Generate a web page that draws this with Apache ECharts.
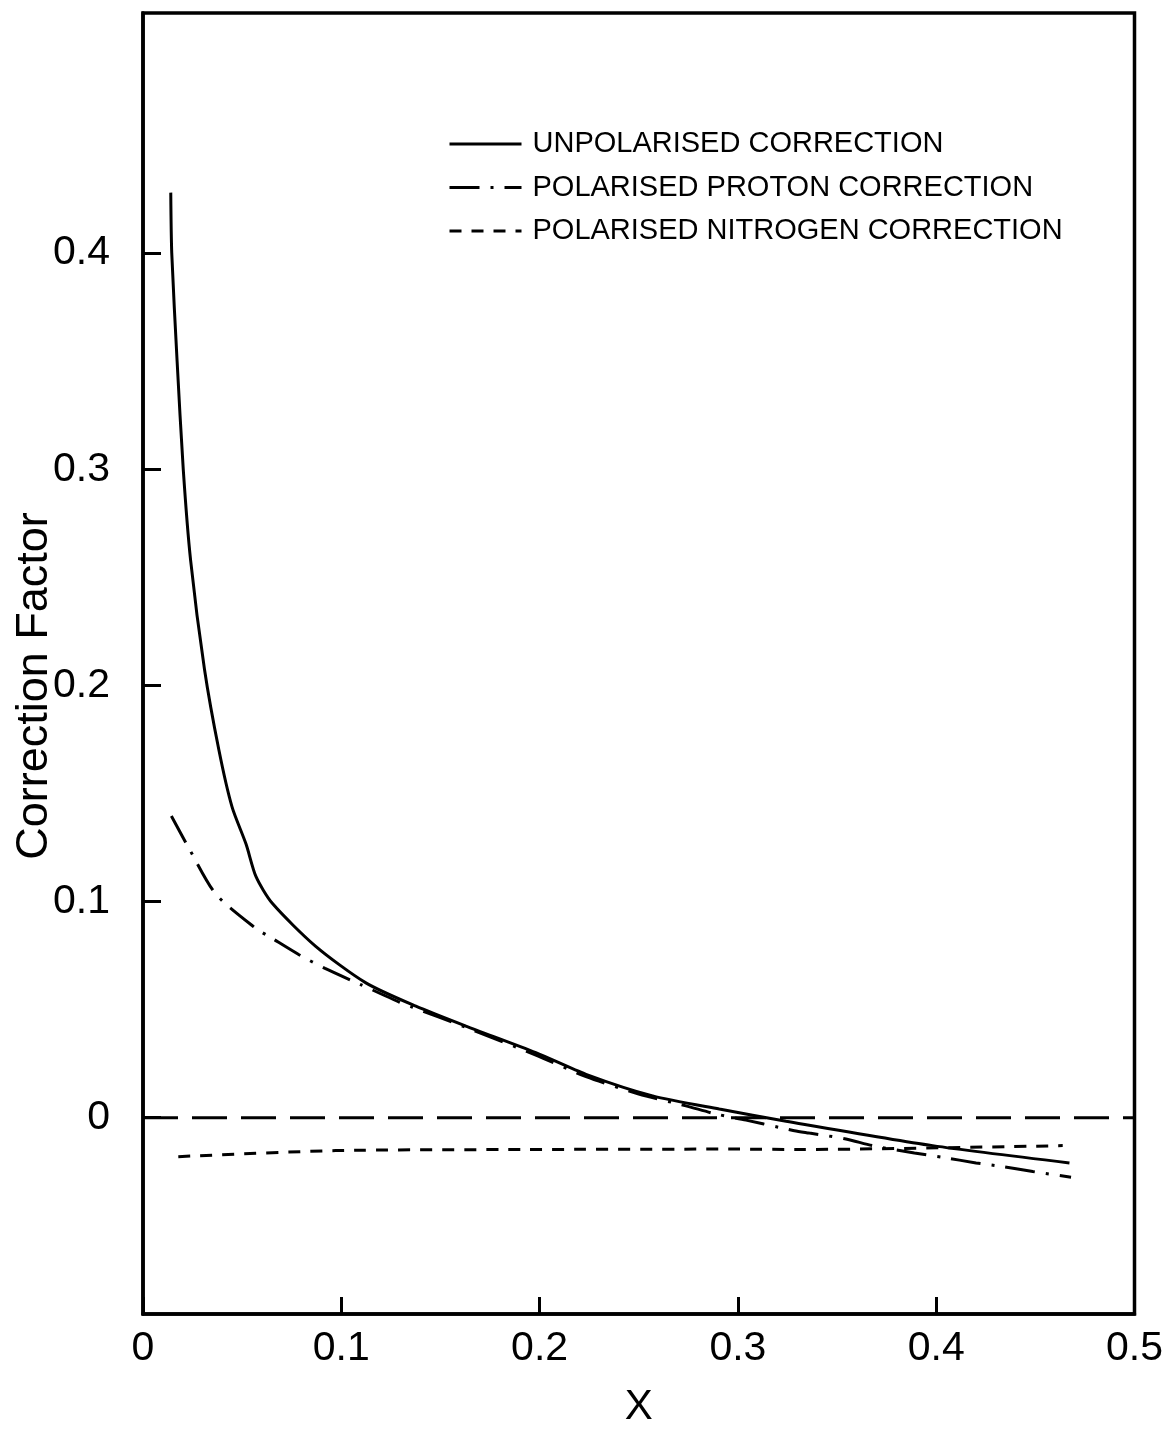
<!DOCTYPE html>
<html>
<head>
<meta charset="utf-8">
<script src="https://cdn.jsdelivr.net/npm/echarts@6/dist/echarts.min.js"></script>
<style>
html,body{margin:0;padding:0;background:#fff;}
#chart{width:1166px;height:1433px;}
</style>
</head>
<body>
<div id="chart"></div>
<script>
// ---- data ----
const seriesNames = ["UNPOLARISED CORRECTION", "POLARISED PROTON CORRECTION", "POLARISED NITROGEN CORRECTION"];
const unpolX = [0.0140, 0.0145, 0.0172, 0.0203, 0.0240, 0.0310, 0.0383, 0.0449, 0.0520, 0.0570, 0.0652, 0.0871, 0.1124, 0.1376, 0.1628, 0.1981, 0.2234, 0.2570, 0.2906, 0.3243, 0.3982, 0.4672];
const unpolY = [0.428, 0.400, 0.350, 0.300, 0.258, 0.2075, 0.170, 0.1438, 0.1265, 0.1115, 0.0992, 0.0793, 0.0624, 0.0516, 0.0424, 0.0301, 0.0201, 0.0101, 0.0040, -0.0016, -0.0129, -0.0209];
const protonX = [0.0143, 0.0232, 0.0367, 0.0569, 0.0644, 0.0787, 0.0918, 0.1098, 0.1292, 0.1357, 0.1628, 0.1981, 0.2234, 0.2500, 0.2738, 0.2890, 0.3041, 0.3209, 0.3285, 0.3360, 0.3545, 0.3678, 0.3890, 0.4033, 0.4201, 0.4319, 0.4487, 0.4680];
const protonY = [0.1396, 0.1246, 0.1035, 0.0876, 0.0834, 0.0754, 0.0691, 0.0616, 0.0535, 0.0512, 0.0418, 0.0290, 0.0190, 0.0110, 0.0055, 0.0017, -0.0011, -0.0045, -0.0060, -0.0071, -0.0098, -0.0129, -0.0163, -0.0183, -0.0209, -0.0224, -0.0249, -0.0275];
const nitroX = [0.0178, 0.0972, 0.1930, 0.3000, 0.3310, 0.4638];
const nitroY = [-0.0180, -0.0152, -0.0147, -0.0145, -0.0147, -0.0129];
const zeroX = [0, 0.5];
const zeroY = [0, 0];
const xTicks = [0, 0.1, 0.2, 0.3, 0.4, 0.5];
const yTicks = [0, 0.1, 0.2, 0.3, 0.4];
const xTitle = "X";
const yTitle = "Correction Factor";

const zip = (xs, ys) => xs.map((x, i) => [x, ys[i]]);
const FONT = "Liberation Sans";

const chart = echarts.init(document.getElementById('chart'), null, {renderer: 'canvas'});
chart.setOption({
  backgroundColor: '#fff',
  animation: false,
  grid: {left: 143, right: 31, top: 13, bottom: 114, show: true, borderColor: '#000', borderWidth: 3.5, backgroundColor: 'transparent'},
  legend: {
    data: seriesNames,
    orient: 'vertical',
    left: 443, top: 124,
    itemWidth: 72, itemHeight: 14, itemGap: 13.5,
    itemStyle: {opacity: 0},
    lineStyle: {width: 3},
    textStyle: {color: '#000', fontFamily: FONT, fontSize: 29, lineHeight: 30, padding: [0, 0, 0, 6]}
  },
  xAxis: {
    type: 'value', min: 0, max: 0.5, interval: 0.1,
    axisLine: {show: true, onZero: false, lineStyle: {color: '#000', width: 3.5}},
    axisTick: {show: true, inside: true, length: 17, lineStyle: {color: '#000', width: 3}, customValues: xTicks},
    axisLabel: {color: '#000', fontFamily: FONT, fontSize: 41, margin: 14, customValues: xTicks,
      formatter: v => (v === 0 ? '0' : String(+v.toFixed(1)))},
    splitLine: {show: false},
    name: xTitle, nameLocation: 'middle', nameGap: 72,
    nameTextStyle: {color: '#000', fontFamily: FONT, fontSize: 42}
  },
  yAxis: {
    type: 'value', min: -0.0908, max: 0.5111,
    axisLine: {show: true, onZero: false, lineStyle: {color: '#000', width: 3.5}},
    axisTick: {show: true, inside: true, length: 18, lineStyle: {color: '#000', width: 3}, customValues: yTicks},
    axisLabel: {color: '#000', fontFamily: FONT, fontSize: 41, margin: 33, customValues: yTicks,
      formatter: v => (v === 0 ? '0' : String(+v.toFixed(1)))},
    splitLine: {show: false}
  },
  graphic: [{
    type: 'text', x: 35, y: 686, rotation: Math.PI / 2,
    style: {text: yTitle, fill: '#000', font: '45px "Liberation Sans"', textAlign: 'center', textVerticalAlign: 'middle'}
  }],
  series: [
    {name: seriesNames[0], type: 'line', data: zip(unpolX, unpolY), showSymbol: false, symbol: 'none',
      smooth: 0.25, lineStyle: {color: '#000', width: 3, type: 'solid'}, itemStyle: {color: '#000'}},
    {name: seriesNames[1], type: 'line', data: zip(protonX, protonY), showSymbol: false, symbol: 'none',
      smooth: 0.25, lineStyle: {color: '#000', width: 3, type: [30, 11, 3, 11]}, itemStyle: {color: '#000'}},
    {name: seriesNames[2], type: 'line', data: zip(nitroX, nitroY), showSymbol: false, symbol: 'none',
      smooth: 0.25, lineStyle: {color: '#000', width: 3, type: [12, 10]}, itemStyle: {color: '#000'}},
    {name: 'zero', type: 'line', data: zip(zeroX, zeroY), showSymbol: false, symbol: 'none',
      lineStyle: {color: '#000', width: 3, type: [35, 14]}, silent: true}
  ]
});
</script>
</body>
</html>
